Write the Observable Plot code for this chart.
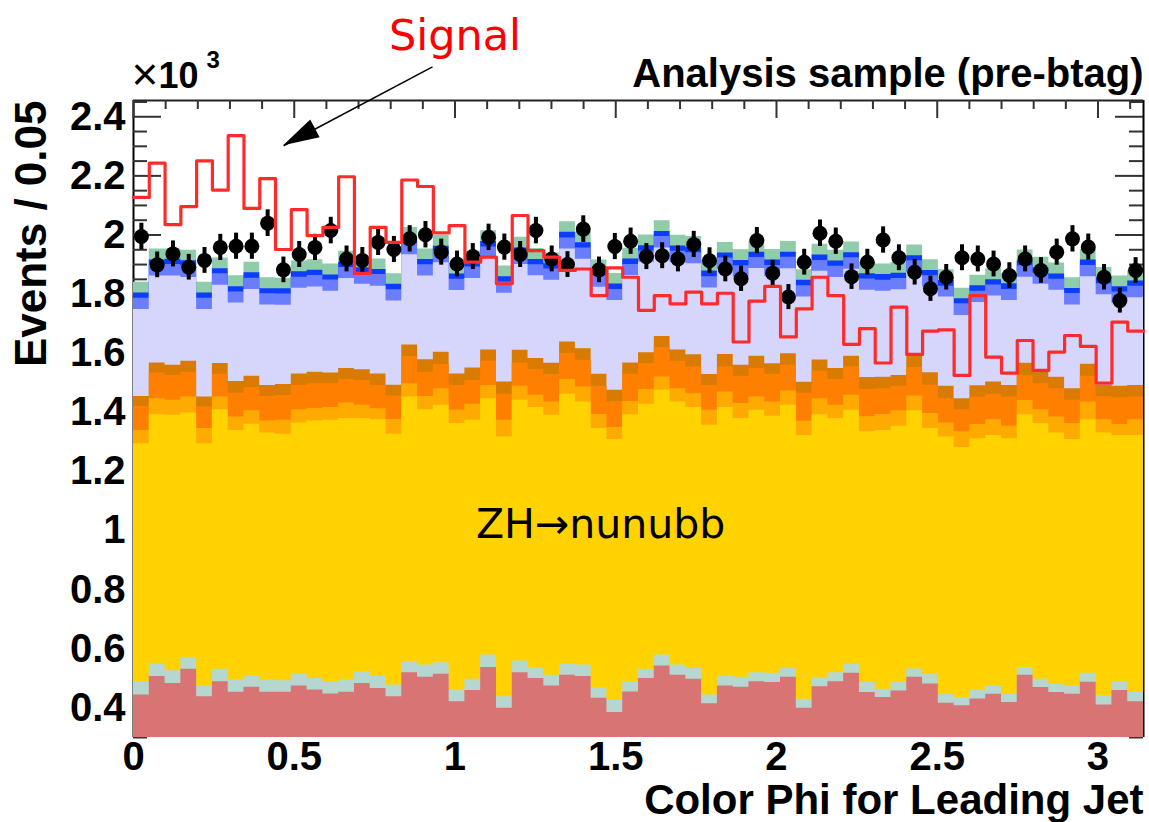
<!DOCTYPE html>
<html><head><meta charset="utf-8">
<script src="https://cdn.jsdelivr.net/npm/d3@7"></script>
<script src="https://cdn.jsdelivr.net/npm/@observablehq/plot@0.6"></script>
<style>
html,body{margin:0;padding:0;background:#fff;}
#chart svg{display:block;}
</style>
</head><body><div id="chart"></div>
<script>
// ---------- data (values in units of 10^3 events per bin) ----------
const binCount = 64;                       // 64 bins from 0 to pi
const xTickValues = [0, 0.5, 1, 1.5, 2, 2.5, 3];
const yTickValues = [0.4, 0.6, 0.8, 1, 1.2, 1.4, 1.6, 1.8, 2, 2.2, 2.4];

const layerNames  = ["red", "lightTeal", "yellow", "lightOrange", "orange", "darkOrange", "lavender", "medBlue", "blue", "teal"];
const layerColors = ["#d97474", "#b5d7d0", "#ffd200", "#ffaa00", "#ff8000", "#d97b00", "#d6d6fc", "#6b7dff", "#0a3dff", "#8fcca9"];

const red = [0.444,0.506,0.483,0.531,0.438,0.489,0.453,0.470,0.453,0.453,
 0.474,0.461,0.447,0.453,0.483,0.466,0.438,0.519,0.504,0.514,
 0.421,0.459,0.537,0.399,0.519,0.500,0.474,0.511,0.506,0.433,
 0.385,0.454,0.500,0.542,0.511,0.497,0.414,0.474,0.470,0.489,
 0.486,0.504,0.399,0.472,0.489,0.517,0.452,0.435,0.457,0.504,
 0.481,0.416,0.407,0.430,0.446,0.418,0.511,0.469,0.452,0.446,
 0.487,0.410,0.459,0.421];
const lightTeal = [0.045,0.043,0.043,0.039,0.036,0.042,0.042,0.038,0.042,0.039,
 0.041,0.039,0.039,0.042,0.040,0.040,0.040,0.038,0.041,0.039,
 0.040,0.038,0.042,0.039,0.040,0.037,0.037,0.038,0.039,0.036,
 0.040,0.035,0.031,0.037,0.034,0.037,0.030,0.034,0.034,0.030,
 0.031,0.030,0.030,0.031,0.030,0.032,0.034,0.028,0.030,0.028,
 0.033,0.030,0.028,0.031,0.029,0.028,0.026,0.028,0.029,0.028,
 0.030,0.031,0.030,0.031];
const yellow = [0.805,0.843,0.864,0.828,0.820,0.878,0.844,0.852,0.835,0.834,
 0.849,0.871,0.887,0.884,0.856,0.869,0.848,0.895,0.864,0.871,
 0.901,0.876,0.867,0.879,0.882,0.879,0.879,0.912,0.890,0.876,
 0.883,0.903,0.896,0.896,0.890,0.882,0.912,0.908,0.875,0.888,
 0.870,0.890,0.893,0.889,0.860,0.858,0.848,0.876,0.866,0.873,
 0.831,0.871,0.846,0.850,0.847,0.865,0.855,0.865,0.849,0.834,
 0.858,0.889,0.833,0.870];
const lightOrange = [0.045,0.054,0.051,0.054,0.051,0.043,0.045,0.045,0.041,0.047,
 0.045,0.042,0.043,0.053,0.045,0.037,0.050,0.045,0.045,0.056,
 0.045,0.054,0.045,0.056,0.047,0.042,0.045,0.050,0.051,0.048,
 0.041,0.045,0.050,0.045,0.045,0.047,0.051,0.053,0.051,0.045,
 0.048,0.048,0.048,0.054,0.045,0.051,0.051,0.054,0.052,0.050,
 0.051,0.047,0.053,0.048,0.053,0.042,0.048,0.047,0.054,0.054,
 0.060,0.045,0.037,0.053];
const orange = [0.081,0.087,0.084,0.084,0.073,0.077,0.081,0.079,0.083,0.084,
 0.082,0.084,0.081,0.079,0.084,0.079,0.079,0.092,0.082,0.082,
 0.084,0.081,0.082,0.088,0.079,0.087,0.093,0.088,0.090,0.095,
 0.087,0.092,0.088,0.099,0.093,0.090,0.084,0.084,0.092,0.096,
 0.093,0.087,0.095,0.093,0.087,0.096,0.092,0.087,0.083,0.097,
 0.096,0.082,0.075,0.092,0.086,0.099,0.084,0.088,0.096,0.079,
 0.087,0.078,0.090,0.077];
const darkOrange = [0.034,0.034,0.034,0.037,0.034,0.036,0.039,0.038,0.037,0.037,
 0.039,0.039,0.036,0.037,0.036,0.039,0.037,0.039,0.042,0.041,
 0.039,0.042,0.038,0.042,0.043,0.037,0.038,0.039,0.039,0.041,
 0.039,0.038,0.037,0.038,0.038,0.042,0.037,0.043,0.037,0.042,
 0.036,0.039,0.037,0.038,0.037,0.036,0.041,0.039,0.037,0.042,
 0.042,0.042,0.037,0.039,0.042,0.039,0.042,0.039,0.039,0.039,
 0.041,0.038,0.039,0.039];
const lavender = [0.294,0.294,0.302,0.283,0.296,0.265,0.266,0.294,0.272,0.268,
 0.290,0.288,0.277,0.305,0.289,0.297,0.285,0.305,0.283,0.303,
 0.282,0.303,0.311,0.300,0.290,0.280,0.281,0.315,0.303,0.294,
 0.303,0.296,0.306,0.299,0.296,0.308,0.293,0.287,0.299,0.297,
 0.295,0.288,0.288,0.300,0.308,0.294,0.295,0.291,0.290,0.280,
 0.290,0.302,0.282,0.282,0.291,0.287,0.291,0.297,0.294,0.283,
 0.296,0.307,0.281,0.297];
const medBlue = [0.038,0.037,0.039,0.038,0.038,0.039,0.037,0.038,0.038,0.038,
 0.037,0.039,0.038,0.037,0.038,0.039,0.038,0.037,0.038,0.039,
 0.038,0.039,0.037,0.038,0.039,0.037,0.038,0.037,0.038,0.039,
 0.038,0.037,0.038,0.039,0.038,0.037,0.038,0.039,0.038,0.037,
 0.038,0.039,0.038,0.037,0.038,0.039,0.038,0.037,0.038,0.039,
 0.038,0.037,0.039,0.038,0.037,0.038,0.039,0.038,0.037,0.039,
 0.038,0.037,0.038,0.039];
const blue = [0.018,0.017,0.018,0.019,0.018,0.017,0.018,0.018,0.017,0.018,
 0.019,0.018,0.017,0.018,0.018,0.017,0.018,0.019,0.018,0.017,
 0.018,0.018,0.019,0.018,0.017,0.018,0.018,0.019,0.018,0.017,
 0.018,0.019,0.018,0.017,0.018,0.018,0.019,0.017,0.018,0.018,
 0.018,0.017,0.019,0.018,0.018,0.017,0.018,0.019,0.018,0.017,
 0.018,0.019,0.017,0.018,0.018,0.019,0.017,0.018,0.018,0.017,
 0.018,0.019,0.018,0.017];
const teal = [0.036,0.038,0.035,0.035,0.036,0.036,0.037,0.036,0.037,0.036,
 0.036,0.035,0.037,0.037,0.036,0.036,0.036,0.036,0.036,0.036,
 0.036,0.035,0.036,0.036,0.036,0.037,0.036,0.036,0.036,0.036,
 0.036,0.036,0.036,0.036,0.036,0.037,0.035,0.036,0.036,0.037,
 0.036,0.036,0.035,0.037,0.036,0.036,0.036,0.036,0.036,0.036,
 0.036,0.036,0.036,0.036,0.037,0.035,0.036,0.036,0.037,0.036,
 0.036,0.036,0.036,0.036];

const dataValues = [1.995,1.899,1.936,1.891,1.914,1.958,1.962,1.962,2.040,1.882,
 1.934,1.958,2.015,1.919,1.914,1.975,1.951,1.987,2.001,1.942,
 1.902,1.927,1.992,1.959,1.934,2.015,1.919,1.900,2.020,1.882,
 1.961,1.979,1.927,1.930,1.919,1.968,1.913,1.885,1.852,1.981,
 1.871,1.790,1.908,2.006,1.979,1.859,1.908,1.983,1.923,1.874,
 1.818,1.857,1.923,1.919,1.902,1.863,1.919,1.880,1.942,1.987,
 1.959,1.857,1.778,1.880];

const signalValues = [2.127,2.243,2.035,2.096,2.251,2.152,2.336,2.090,2.191,1.951,
 2.086,1.998,2.026,2.197,1.870,2.026,1.975,2.186,2.164,2.007,
 2.032,1.908,1.925,1.835,2.066,1.947,1.925,1.880,1.885,1.795,
 1.889,1.857,1.745,1.795,1.767,1.807,1.767,1.803,1.638,1.776,
 1.826,1.655,1.750,1.857,1.795,1.630,1.683,1.567,1.756,1.596,
 1.675,1.679,1.525,1.795,1.587,1.533,1.643,1.542,1.604,1.660,
 1.623,1.499,1.705,1.675];

// annotation anchors (data units)
const signalLabel = {text: "Signal", x: 1.0, y: 2.672};
const arrowSpec = {x1: 0.930, y1: 2.569, x2: 0.467, y2: 2.302};
const processLabel = {text: "ZH\u2192nunubb", x: 1.453, y: 1.02};

// ---------- derived tables ----------
const binWidth = Math.PI / binCount;
const xMax = Math.PI, yMin = 0.3, yMax = 2.455;
const layerValues = [red, lightTeal, yellow, lightOrange, orange, darkOrange, lavender, medBlue, blue, teal];

// cumulative tops per layer (stacked histogram), drawn as step areas, top layer first
const cum = d3.range(binCount).map(() => 0);
const layerTops = layerNames.map((name, k) => {
  const tops = d3.range(binCount).map(i => (cum[i] += layerValues[k][i]));
  return {name, tops};
});
const areaRows = [];
for (let k = layerTops.length - 1; k >= 0; k--) {
  const {name, tops} = layerTops[k];
  for (let i = 0; i < binCount; i++) areaRows.push({layer: name, x: i * binWidth, top: tops[i]});
  areaRows.push({layer: name, x: binCount * binWidth, top: tops[binCount - 1]});
}

const pointRows = dataValues.map((v, i) => ({x: (i + 0.5) * binWidth, y: v, err: Math.sqrt(v * 1000) / 1000}));
const signalRows = signalValues.map((v, i) => ({x: i * binWidth, y: v}));
signalRows.push({x: binCount * binWidth, y: signalValues[binCount - 1]});

const yMinor = d3.range(0.3, 2.4551, 0.05).map(v => +v.toFixed(2)).filter(v => !yTickValues.some(t => Math.abs(t - v) < 1e-6));
const xMinor = d3.range(0, 3.15, 0.1).map(v => +v.toFixed(2)).filter(v => !xTickValues.some(t => Math.abs(t - v) < 1e-6));

const W = 1149, H = 822, mL = 133, mR = 6, mT = 100, mB = 85;
const pw = W - mL - mR, ph = H - mT - mB;
const fontMain = "Liberation Sans, Arial, Helvetica, sans-serif";

const arrowHead = (index, scales) => {
  const tx = scales.x(arrowSpec.x2), ty = scales.y(arrowSpec.y2);
  const sx = scales.x(arrowSpec.x1), sy = scales.y(arrowSpec.y1);
  const dx = sx - tx, dy = sy - ty, len = Math.hypot(dx, dy);
  const ux = dx / len, uy = dy / len, L = 36, Wd = 10;
  const bx = tx + ux * L, by = ty + uy * L;
  const p = document.createElementNS("http://www.w3.org/2000/svg", "path");
  p.setAttribute("d", `M${tx},${ty}L${bx - uy * Wd},${by + ux * Wd}L${bx + uy * Wd},${by - ux * Wd}Z`);
  p.setAttribute("fill", "black");
  return p;
};

const chart = Plot.plot({
  width: W, height: H,
  marginLeft: mL, marginRight: mR, marginTop: mT, marginBottom: mB,
  style: {fontFamily: fontMain, fontWeight: "bold", fontSize: "40px", color: "black", background: "white", overflow: "visible"},
  x: {domain: [0, xMax], axis: null},
  y: {domain: [yMin, yMax], axis: null},
  color: {domain: layerNames, range: layerColors},
  marks: [
    // frame lines and inner ticks (drawn first, histograms cover them as in ROOT)
    Plot.ruleX([0], {stroke: "black", strokeWidth: 2}),
    Plot.ruleX([xMax], {stroke: "black", strokeWidth: 2}),
    Plot.ruleY([yMax], {stroke: "#222", strokeWidth: 2}),
    Plot.ruleY(yTickValues, {stroke: "#333", strokeWidth: 2, insetRight: pw - 28}),
    Plot.ruleY(yMinor, {stroke: "#333", strokeWidth: 2, insetRight: pw - 14}),
    Plot.ruleY(yTickValues, {stroke: "#333", strokeWidth: 2, insetLeft: pw - 28}),
    Plot.ruleY(yMinor, {stroke: "#333", strokeWidth: 2, insetLeft: pw - 14}),
    Plot.ruleX(xTickValues, {stroke: "#333", strokeWidth: 2, insetBottom: ph - 18}),
    Plot.ruleX(xMinor, {stroke: "#333", strokeWidth: 2, insetBottom: ph - 9}),
    // stacked backgrounds
    Plot.areaY(areaRows, {x: "x", y1: 0, y2: "top", z: "layer", fill: "layer", curve: "step-after", clip: true}),
    // data with errors
    Plot.ruleX(pointRows, {x: "x", y1: d => d.y - d.err, y2: d => d.y + d.err, stroke: "black", strokeWidth: 4}),
    Plot.dot(pointRows, {x: "x", y: "y", r: 7.5, fill: "black", stroke: "none"}),
    // signal
    Plot.line(signalRows, {x: "x", y: "y", curve: "step-after", stroke: "#ff2a2a", strokeWidth: 3.2}),
    // axes
    Plot.axisY({ticks: yTickValues, tickSize: 0, tickPadding: 8, fontSize: 40, fontWeight: "bold",
                tickFormat: d => String(+d.toFixed(1)), label: null}),
    Plot.axisX({ticks: xTickValues, tickSize: 0, tickPadding: 4, fontSize: 40, fontWeight: "bold",
                tickFormat: d => String(+d.toFixed(1)), label: null}),
    // titles
    Plot.text(["Analysis sample (pre-btag)"], {frameAnchor: "top-right", lineAnchor: "middle", dy: -26, textAnchor: "end", fontSize: 40, fontWeight: "bold"}),
    Plot.text(["Color Phi for Leading Jet"], {frameAnchor: "bottom-right", lineAnchor: "middle", dy: 63, textAnchor: "end", fontSize: 42, fontWeight: "bold"}),
    Plot.text(["Events / 0.05"], {frameAnchor: "top-left", lineAnchor: "middle", dx: -102, textAnchor: "end", rotate: -90, fontSize: 44, fontWeight: "bold"}),
    Plot.text(["\u00d7"], {frameAnchor: "top-left", lineAnchor: "middle", dx: -2, dy: -25, textAnchor: "start", fontSize: 46, fontWeight: "normal"}),
    Plot.text(["10"], {frameAnchor: "top-left", lineAnchor: "middle", dx: 25, dy: -24, textAnchor: "start", fontSize: 36, fontWeight: "bold"}),
    Plot.text(["3"], {frameAnchor: "top-left", lineAnchor: "middle", dx: 73, dy: -40, textAnchor: "start", fontSize: 24, fontWeight: "bold"}),
    // annotations
    Plot.text([signalLabel], {x: "x", y: "y", text: "text", fill: "#ff0000", fontSize: 43, fontWeight: "normal", fontFamily: "DejaVu Sans, sans-serif"}),
    Plot.link([arrowSpec], {x1: "x1", y1: "y1", x2: "x2", y2: "y2", stroke: "black", strokeWidth: 1.5}),
    arrowHead,
    Plot.text([processLabel], {x: "x", y: "y", text: "text", fill: "black", fontSize: 41, fontWeight: "normal", fontFamily: "DejaVu Sans, sans-serif"})
  ]
});
document.getElementById("chart").appendChild(chart);
</script>
</body></html>
